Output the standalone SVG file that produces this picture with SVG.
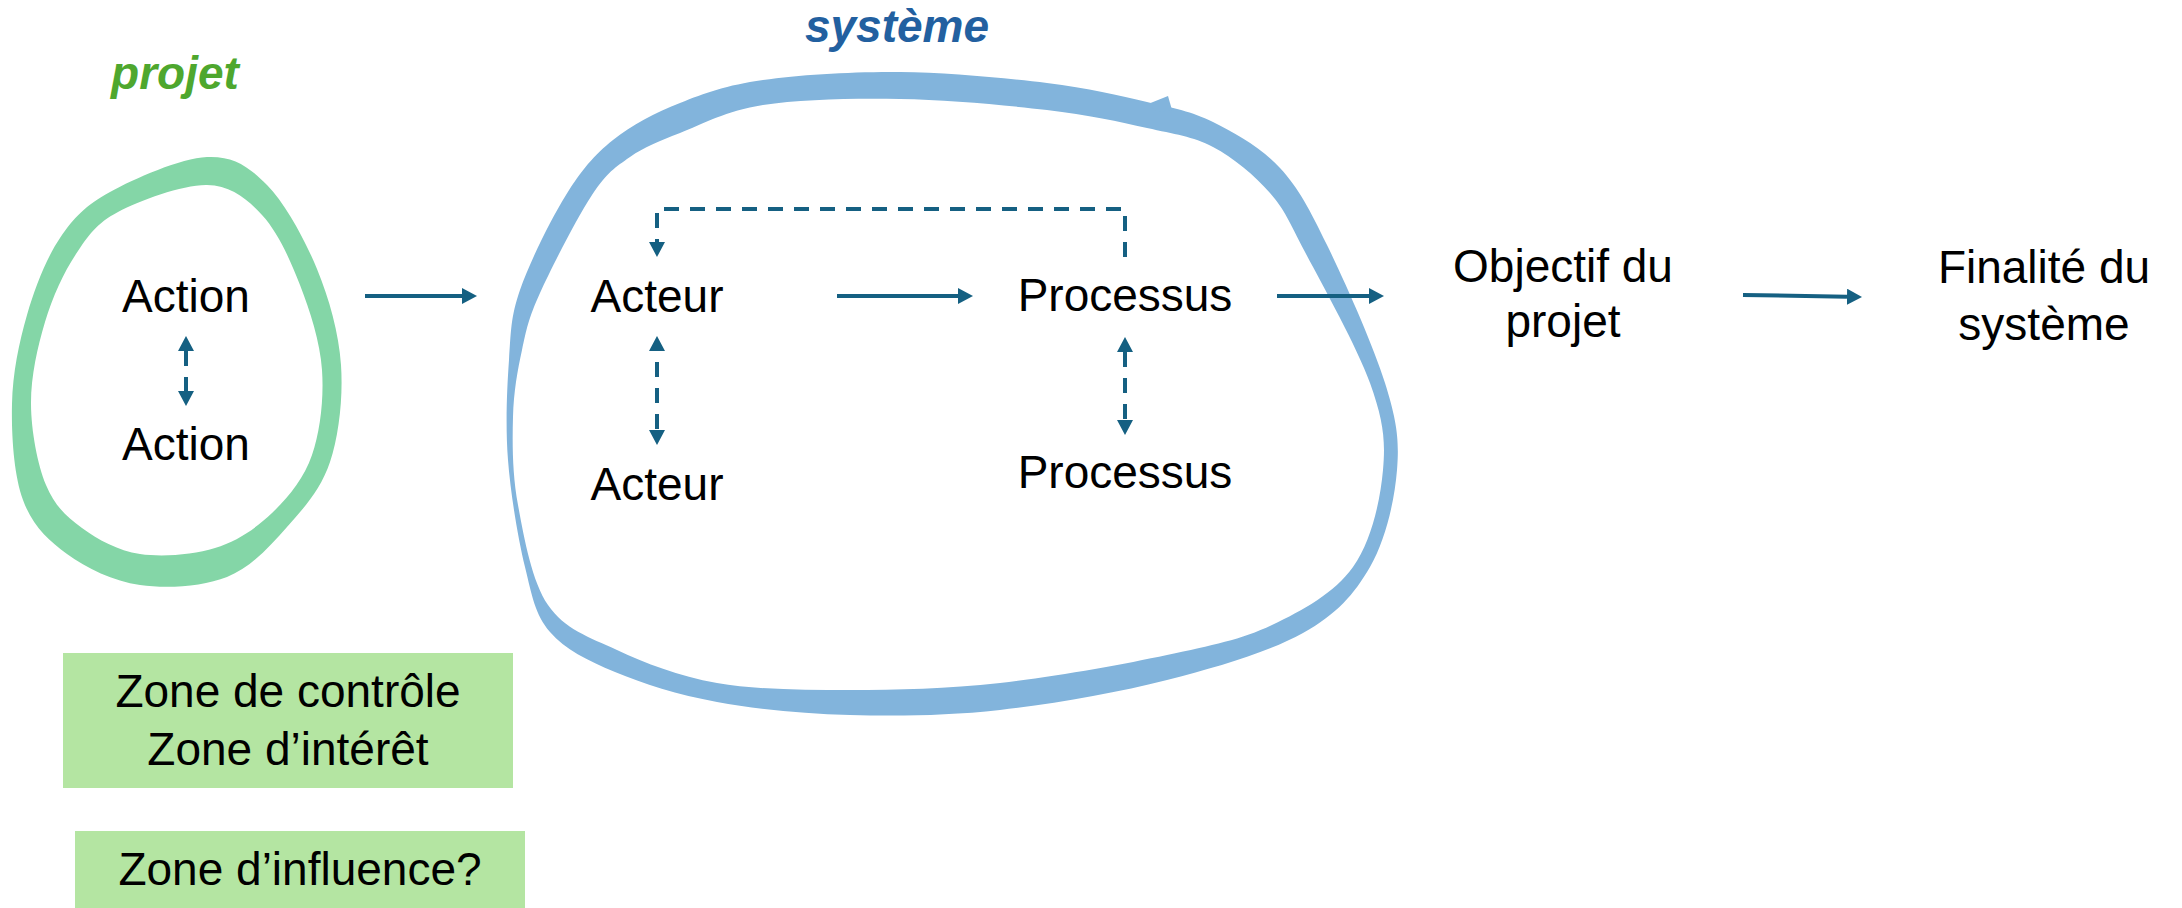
<svg xmlns="http://www.w3.org/2000/svg" width="2182" height="908" viewBox="0 0 2182 908">
  <defs>
    <style>
      .lbl { font-family: "Liberation Sans", Arial, sans-serif; font-size: 46px; fill: #000; text-anchor: middle; }
      .title { font-family: "Liberation Sans", Arial, sans-serif; font-size: 46px; font-weight: bold; font-style: italic; text-anchor: middle; }
      .zone { fill: #b4e5a2; }
      .link { fill: none; stroke: #156082; stroke-width: 4; }
      .solid { marker-end: url(#head); }
      .dash { stroke-dasharray: 15 11; }
      .both { marker-start: url(#head); marker-end: url(#head); }
    </style>
    <!-- arrowhead drawn beyond the path end (refX=0) -->
    <marker id="head" markerUnits="userSpaceOnUse" markerWidth="16" markerHeight="16" refX="0" refY="8" orient="auto-start-reverse">
      <path d="M0,0 L15,8 L0,16 Z" fill="#156082"/>
    </marker>
  </defs>

  <rect width="2182" height="908" fill="#ffffff"/>

  <!-- projet loop -->
  <g id="projet-loop">
    <path fill="#84d6a7" fill-rule="evenodd" d="
      M 207,157
      C 233.2,155.8 248.7,166.3 267,185
      C 285.3,203.7 304.7,239 317,269
      C 329.3,299 338.8,332.8 341,365
      C 343.2,397.2 339,435 330,462
      C 321,489 304.2,507.8 287,527
      C 269.8,546.2 251.5,567.3 227,577
      C 202.5,586.7 166.7,588.8 140,585
      C 113.3,581.2 86.5,568.2 67,554
      C 47.5,539.8 32.2,525 23,500
      C 13.8,475 11.3,434.8 12,404
      C 12.7,373.2 19,342.7 27,315
      C 35,287.3 46.2,258.5 60,238
      C 73.8,217.5 85.5,205.5 110,192
      C 134.5,178.5 180.8,158.2 207,157 Z
      M 207,185
      C 231,185.5 246.5,198.3 262,215
      C 277.5,231.7 290,259.2 300,285
      C 310,310.8 320,341.7 322,370
      C 324,398.3 320.3,431.2 312,455
      C 303.7,478.8 288.2,497.5 272,513
      C 255.8,528.5 237,541.2 215,548
      C 193,554.8 162.2,557.3 140,554
      C 117.8,550.7 97.7,539.5 82,528
      C 66.3,516.5 54.5,505.7 46,485
      C 37.5,464.3 31.2,431.2 31,404
      C 30.8,376.8 37.5,347 45,322
      C 52.5,297 63.8,272.3 76,254
      C 88.2,235.7 96.2,223.5 118,212
      C 139.8,200.5 183,184.5 207,185 Z"/>
    <text class="title" x="175" y="89" fill="#4ea72e">projet</text>
  </g>

  <!-- systeme loop -->
  <g id="systeme-loop">
    <path fill="#82b4dc" fill-rule="evenodd" d="
      M 509,360
      C 511,331.7 510.5,317.5 520,290
      C 529.5,262.5 550.5,220 566,195
      C 581.5,170 594,155.3 613,140
      C 632,124.7 655,113 680,103
      C 705,93 726.3,85.2 763,80
      C 799.7,74.8 852.7,71.5 900,72
      C 947.3,72.5 1005.8,78 1047,83
      C 1088.2,88 1119.3,95.5 1147,102
      C 1174.7,108.5 1190.8,111 1213,122
      C 1235.2,133 1261,147.5 1280,168
      C 1299,188.5 1309.5,209.2 1327,245
      C 1344.5,280.8 1373.3,345.5 1385,383
      C 1396.7,420.5 1399.5,439.3 1397,470
      C 1394.5,500.7 1385.7,539.8 1370,567
      C 1354.3,594.2 1336.8,614.2 1303,633
      C 1269.2,651.8 1217.5,667.2 1167,680
      C 1116.5,692.8 1052.8,704.2 1000,710
      C 947.2,715.8 897.2,716.3 850,715
      C 802.8,713.7 756.2,709.2 717,702
      C 677.8,694.8 642.8,683.7 615,672
      C 587.2,660.3 565,649.5 550,632
      C 535,614.5 532,595.7 525,567
      C 518,538.3 510.7,494.5 508,460
      C 505.3,425.5 507,388.3 509,360 Z
      M 513,417
      C 513.7,391.2 517.5,370.7 522,350
      C 526.5,329.3 528.3,318.8 540,293
      C 551.7,267.2 577,217.7 592,195
      C 607,172.3 615.3,167.3 630,157
      C 644.7,146.7 657.8,141.7 680,133
      C 702.2,124.3 726.3,110.7 763,105
      C 799.7,99.3 852.7,98.2 900,99
      C 947.3,99.8 1005.8,105.2 1047,110
      C 1088.2,114.8 1119.3,121.8 1147,128
      C 1174.7,134.2 1192.5,136.2 1213,147
      C 1233.5,157.8 1254.7,175.5 1270,193
      C 1285.3,210.5 1288.3,220.3 1305,252
      C 1321.7,283.7 1357,346.7 1370,383
      C 1383,419.3 1385.8,439.3 1383,470
      C 1380.2,500.7 1371.5,541.2 1353,567
      C 1334.5,592.8 1303,610.3 1272,625
      C 1241,639.7 1212.3,645.3 1167,655
      C 1121.7,664.7 1052.8,677.2 1000,683
      C 947.2,688.8 897.2,690 850,690
      C 802.8,690 755.8,689.7 717,683
      C 678.2,676.3 645.2,663 617,650
      C 588.8,637 564.5,629.2 548,605
      C 531.5,580.8 523.8,536.3 518,505
      C 512.2,473.7 512.3,442.8 513,417 Z"/>
    <!-- small tick where the pen stroke closes -->
    <path fill="#82b4dc" d="M1148,104 L1168,96 L1172,110 L1157,112 Z"/>
    <text class="title" x="897" y="42" fill="#2260a0">système</text>
  </g>

  <!-- nodes -->
  <g id="action-1"><text class="lbl" x="186" y="312">Action</text></g>
  <g id="action-2"><text class="lbl" x="186" y="460">Action</text></g>
  <g id="acteur-1"><text class="lbl" x="657" y="312">Acteur</text></g>
  <g id="acteur-2"><text class="lbl" x="657" y="500">Acteur</text></g>
  <g id="processus-1"><text class="lbl" x="1125" y="311">Processus</text></g>
  <g id="processus-2"><text class="lbl" x="1125" y="488">Processus</text></g>
  <g id="objectif">
    <text class="lbl" x="1563" y="282">Objectif du</text>
    <text class="lbl" x="1563" y="337">projet</text>
  </g>
  <g id="finalite">
    <text class="lbl" x="2044" y="283">Finalité du</text>
    <text class="lbl" x="2044" y="340">système</text>
  </g>
  <g id="zone-controle">
    <rect class="zone" x="63" y="653" width="450" height="135"/>
    <text class="lbl" x="288" y="707">Zone de contrôle</text>
    <text class="lbl" x="288" y="765">Zone d’intérêt</text>
  </g>
  <g id="zone-influence">
    <rect class="zone" x="75" y="831" width="450" height="77"/>
    <text class="lbl" x="300" y="885">Zone d’influence?</text>
  </g>

  <!-- connectors -->
  <g id="connectors">
    <path class="link solid" d="M365,296 L462,296"/>
    <path class="link solid" d="M837,296 L958,296"/>
    <path class="link solid" d="M1277,296 L1369,296"/>
    <path class="link solid" d="M1743,295 L1847,296.7"/>
    <path class="link dash" stroke-dasharray="15 13" marker-end="url(#head)" d="M1125,257 L1125,209 L657,209 L657,242"/>
    <path class="link dash both" d="M186,351 L186,391"/>
    <path class="link dash both" stroke-dashoffset="15" d="M657,351 L657,430"/>
    <path class="link dash both" d="M1125,352 L1125,420"/>
  </g>
</svg>
